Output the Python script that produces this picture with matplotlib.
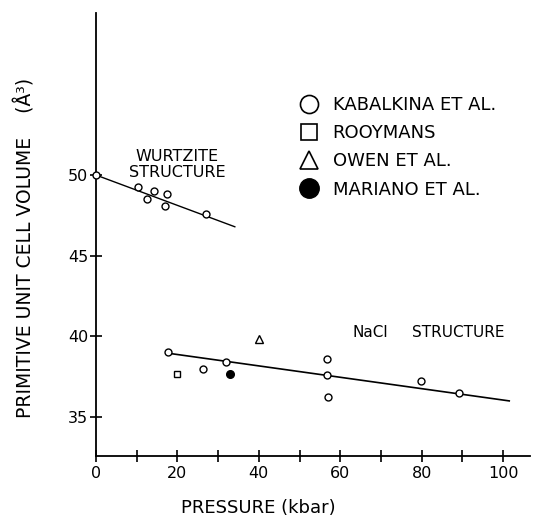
import matplotlib
matplotlib.use("Agg")
from matplotlib import pyplot as plt
from matplotlib.lines import Line2D

# Kabalkina et al., wurtzite phase
wz_p = [0, 10.2, 12.6, 14.3, 17.0, 17.5, 26.9]
wz_v = [50.0, 49.24, 48.53, 49.03, 48.07, 48.82, 47.56]
wz_fit_p = [0, 34.1]
wz_fit_v = [50.0, 46.79]

# Kabalkina et al., NaCl phase
nacl_p = [17.8, 26.4, 31.9, 56.7, 56.7, 57.1, 79.9, 89.1]
nacl_v = [39.03, 37.95, 38.39, 38.57, 37.58, 36.25, 37.20, 36.44]
nacl_fit_p = [18.3, 101.5]
nacl_fit_v = [38.92, 35.98]

rooymans_p, rooymans_v = [20.0], [37.68]
owen_p, owen_v = [40.0], [39.81]
mariano_p, mariano_v = [32.8], [37.64]

legend_labels = ["KABALKINA ET AL.", "ROOYMANS", "OWEN ET AL.", "MARIANO ET AL."]

fig = plt.figure(figsize=(5.35, 5.16), dpi=100)
ax = fig.add_axes([96/535, 1-456/516, 434/535, 443/516])

ax.plot(wz_fit_p, wz_fit_v, c='k', lw=1, zorder=1)
ax.plot(nacl_fit_p, nacl_fit_v, c='k', lw=1.2, zorder=1)

ms = 5
ax.plot(wz_p, wz_v, 'o', ms=ms, mfc='white', mec='k', mew=1, clip_on=False, zorder=3)
ax.plot(nacl_p, nacl_v, 'o', ms=ms, mfc='white', mec='k', mew=1, zorder=3)
ax.plot(rooymans_p, rooymans_v, 's', ms=ms, mfc='white', mec='k', mew=1, zorder=3)
ax.plot(owen_p, owen_v, '^', ms=ms+1, mfc='white', mec='k', mew=1, zorder=3)
ax.plot(mariano_p, mariano_v, 'o', ms=ms+0.5, mfc='k', mec='k', zorder=3)

ax.set_xlim(0, 106.6)
ax.set_ylim(32.56, 60.06)
ax.spines['top'].set_visible(False)
ax.spines['right'].set_visible(False)
ax.spines['left'].set_linewidth(1.3)
ax.spines['bottom'].set_linewidth(1.3)

ax.set_xticks(range(0, 101, 10))
ax.set_xticklabels(['0' if x == 0 else (str(x) if x % 20 == 0 else '') for x in range(0, 101, 10)])
ax.set_yticks([35, 40, 45, 50])
ax.tick_params(axis='both', direction='inout', length=9, width=1.2, labelsize=11.5)
ax.tick_params(axis='x', pad=3)
ax.tick_params(axis='y', pad=1)

ax.set_xlabel('PRESSURE (kbar)', fontsize=13)
ax.xaxis.set_label_coords(0.375, -0.098)
ax.set_ylabel('PRIMITIVE UNIT CELL VOLUME    (Å³)', fontsize=13.5)
ax.yaxis.set_label_coords(-0.14, 0.47)

ax.text(19.9, 50.65, 'WURTZITE\nSTRUCTURE', fontsize=11.5, ha='center', va='center', linespacing=1.05)
ax.text(62.9, 40.2, 'NaCl', fontsize=11, ha='left', va='center')
ax.text(77.6, 40.2, 'STRUCTURE', fontsize=11, ha='left', va='center')

handles = [
    Line2D([], [], ls='', marker='o', ms=13, mfc='white', mec='k', mew=1.2),
    Line2D([], [], ls='', marker='s', ms=12, mfc='white', mec='k', mew=1.2),
    Line2D([], [], ls='', marker='^', ms=13, mfc='white', mec='k', mew=1.2),
    Line2D([], [], ls='', marker='o', ms=14, mfc='k', mec='k'),
]
ax.legend(handles, legend_labels, loc='upper left', bbox_to_anchor=(292/535, 1-89/516),
          bbox_transform=fig.transFigure, frameon=False, fontsize=13,
          handlelength=1.1, handletextpad=0.75, labelspacing=0.56, borderaxespad=0)

fig.savefig('out.png', dpi=100)
